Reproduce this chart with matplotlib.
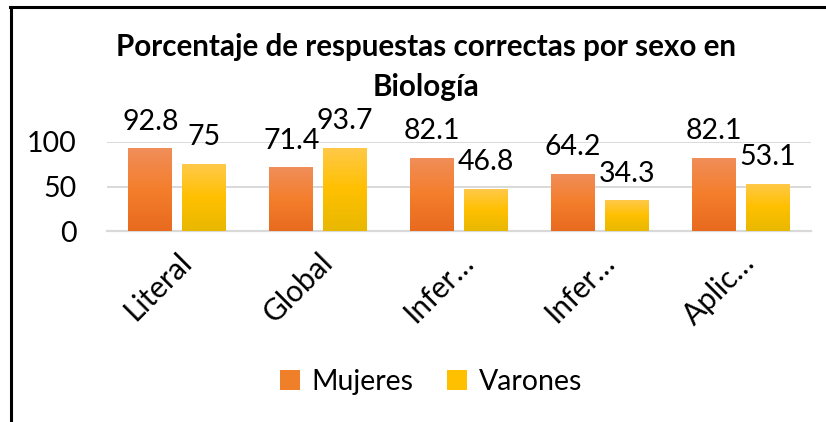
import matplotlib
matplotlib.use("Agg")
import matplotlib.pyplot as plt
import numpy as np
from matplotlib.lines import Line2D
from matplotlib.patches import Patch
from matplotlib.colors import LinearSegmentedColormap

categories = ["Literal", "Global", "Infer…", "Infer…", "Aplic…"]
mujeres = [92.8, 71.4, 82.1, 64.2, 82.1]
varones = [75, 93.7, 46.8, 34.3, 53.1]
mujeres_labels = ["92.8", "71.4", "82.1", "64.2", "82.1"]
varones_labels = ["75", "93.7", "46.8", "34.3", "53.1"]
yticks = [0, 50, 100]
title = "Porcentaje de respuestas correctas por sexo en\nBiología"

FONT = "Lato"
plt.rcParams["font.family"] = [FONT, "DejaVu Sans"]

W, H = 826, 422
fig = plt.figure(figsize=(W / 100, H / 100), dpi=100)
ax = fig.add_axes([107 / W, 1 - 231 / H, (811 - 107) / W, (231 - 142) / H])

x = np.arange(len(categories))
bw = 0.3125
gap = 0.071
off = (bw + gap) / 2
b1 = ax.bar(x - off, mujeres, bw, color="#F07F2A", zorder=2)
b2 = ax.bar(x + off, varones, bw, color="#FFC000", zorder=2)

cm_or = LinearSegmentedColormap.from_list("or", ["#E86A1F", "#F47E2C", "#F08E5A"])
cm_ye = LinearSegmentedColormap.from_list("ye", ["#E8B800", "#FFC000", "#FFC94A"])
grad = np.linspace(0, 1, 256).reshape(-1, 1)
for bars, cmap in ((b1, cm_or), (b2, cm_ye)):
    for p in bars:
        x0, y0 = p.get_x(), p.get_y()
        w, h = p.get_width(), p.get_height()
        im = ax.imshow(grad, extent=[x0, x0 + w, y0, y0 + h], origin="lower",
                       aspect="auto", cmap=cmap, zorder=3)
        im.set_clip_path(p)

for bars, labs in ((b1, mujeres_labels), (b2, varones_labels)):
    for p, lab in zip(bars, labs):
        ax.annotate(lab, (p.get_x() + p.get_width() / 2, p.get_height()),
                    xytext=(0, 10), textcoords="offset points", ha="center",
                    va="bottom", fontsize=20.5, color="#000000", annotation_clip=False)

ax.set_xlim(-0.5, len(categories) - 0.5)
ax.set_ylim(0, 100)
ax.set_yticks(yticks)
ax.set_yticklabels([str(v) for v in yticks], fontsize=20.5)
ax.set_xticks(x)
ax.set_xticklabels(categories, fontsize=21.5, rotation=45, ha="right",
                   rotation_mode="anchor")
ax.tick_params(axis="y", length=0, pad=22)
ax.tick_params(axis="x", length=0, pad=12)
ax.grid(axis="y", color="#D9D9D9", linewidth=1.4, zorder=0)
ax.set_axisbelow(True)
for s in ("top", "right", "left"):
    ax.spines[s].set_visible(False)
ax.spines["bottom"].set_color("#D9D9D9")
ax.spines["bottom"].set_linewidth(1.6)

fig.text(426 / W, 1 - 67 / H, title, ha="center", va="center", fontsize=21.3,
         fontweight="bold", linespacing=1.55)

handles = [Patch(facecolor="#F07F2A"), Patch(facecolor="#FFC000")]
fig.legend(handles, ["Mujeres", "Varones"], loc="center", bbox_to_anchor=(431 / W, 1 - 382 / H),
           ncol=2, frameon=False, fontsize=20.5, handlelength=0.7, handleheight=0.7,
           handletextpad=0.4, columnspacing=1.2)

fig.add_artist(Line2D([10 / W, 1], [1 - 7 / H, 1 - 7 / H], transform=fig.transFigure,
                      color="black", linewidth=2.2))
fig.add_artist(Line2D([11 / W, 11 / W], [0, 1 - 7 / H], transform=fig.transFigure,
                      color="black", linewidth=2.2))

fig.savefig("out.png", dpi=100, facecolor="white")
